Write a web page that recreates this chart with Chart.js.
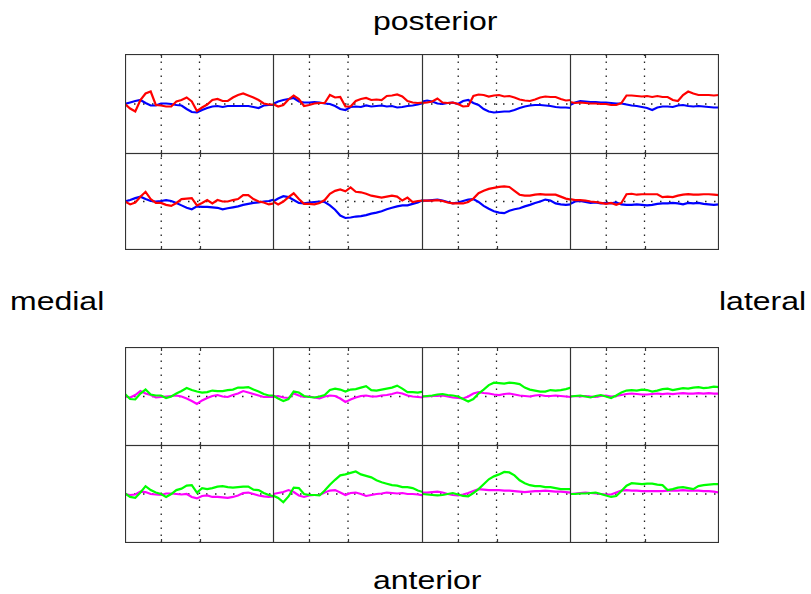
<!DOCTYPE html>
<html>
<head>
<meta charset="utf-8">
<script src="https://cdn.jsdelivr.net/npm/chart.js@4.4.0/dist/chart.umd.min.js"></script>
<style>
  html, body { margin: 0; padding: 0; background: #ffffff; }
  body { width: 811px; height: 594px; position: relative; overflow: hidden; font-family: "Liberation Sans", Arial, sans-serif; }
  canvas { position: absolute; }
  .lbl { position: absolute; font-size: 25px; color: #000; white-space: nowrap; line-height: 1; transform-origin: left top; }
</style>
</head>
<body>
<div class="lbl" id="tPost">posterior</div>
<div class="lbl" id="tMed">medial</div>
<div class="lbl" id="tLat">lateral</div>
<div class="lbl" id="tAnt">anterior</div>
<script>
// ---------- data ----------
const samples = [0,1,2,3,4,5,6,7,8,9,10,11,12,13,14,15,16,17,18,19,20,21,22,23,24,25,26,27,28,29];
const eventMarks = [7.05, 14.5];
const yLimits = [-10, 10];

// posterior, upper row (red / blue), columns 1..4
const postA1Red  = [0,-0.9,-1.5,0.8,2.1,2.5,-0.2,-0.3,-0.5,-0.5,0.5,0.8,1.3,0.5,-1.4,-0.7,-0.1,0.8,1.0,0.6,0.6,1.3,1.8,2.1,1.7,1.3,0.8,0.1,-0.1,-0.1];
const postA1Blue = [0,0.3,0.6,0.8,0.2,-0.3,-0.3,0.1,0.1,0.0,-0.2,-0.3,-1.0,-1.6,-1.7,-1.2,-0.8,-0.5,-0.4,-0.6,-0.4,-0.4,-0.4,-0.4,-0.4,-0.6,-0.8,-0.3,-0.2,-0.2];
const postA2Red  = [0,-0.5,-0.2,0.9,1.7,1.0,-0.4,-0.2,0.1,0.2,0.2,1.8,1.3,1.4,-0.5,-0.5,0.6,1.0,1.2,0.8,0.9,0.8,1.6,1.7,1.9,1.5,0.6,0.3,0.2,0.3];
const postA2Blue = [0,0.5,0.8,1.0,1.2,0.5,0.3,0.3,0.4,0.3,0.1,0.0,-0.4,-1.0,-1.2,-0.6,-0.5,-0.6,-0.3,-0.5,-0.4,-0.3,-0.5,-0.4,-0.7,-0.6,-0.4,-0.3,-0.1,0.2];
const postA3Red  = [0.2,0.3,0.5,1.1,0.3,0.2,0.3,0.0,-0.5,-0.4,1.6,1.9,1.8,1.5,1.7,1.8,1.5,1.6,1.3,0.9,0.7,0.6,0.9,1.3,1.5,1.4,1.4,1.0,0.7,0.8];
const postA3Blue = [0.5,0.7,0.5,0.1,0.0,0.2,0.3,0.0,0.6,0.8,0.2,-0.2,-1.0,-1.5,-1.7,-1.6,-1.5,-1.5,-1.2,-0.8,-0.5,-0.3,-0.2,-0.2,-0.3,-0.4,-0.6,-0.7,-0.7,-0.8];
const postA4Red  = [0.4,0.2,0.3,0.2,0.1,0.1,0.0,0.0,-0.2,-0.2,0.2,1.7,1.7,1.6,1.5,1.6,1.4,1.6,1.4,1.4,0.8,0.6,1.8,2.5,2.1,1.8,1.8,1.8,1.7,1.8];
const postA4Blue = [-0.2,0.3,0.6,0.5,0.4,0.4,0.3,0.3,0.2,0.1,0.1,-0.1,-0.3,-0.4,-0.6,-0.8,-1.2,-0.7,-0.5,-0.5,-0.6,-0.3,-0.2,-0.4,-0.5,-0.4,-0.5,-0.6,-0.7,-0.7];

// posterior, lower row (red / blue)
const postB1Red  = [0,-0.6,-0.2,1.0,2.0,0.5,-0.3,-0.3,-0.7,-0.9,-0.3,0.5,0.6,0.7,-0.8,-0.3,0.3,-0.4,0.3,0.0,0.0,0.3,0.5,1.3,1.3,0.5,0.0,-0.2,-0.6,-0.4];
const postB1Blue = [0,0.3,0.7,1.0,0.5,0.1,0.0,0.1,0.3,0.1,-0.3,-0.8,-1.3,-1.6,-1.0,-1.1,-1.1,-1.2,-1.3,-1.6,-1.4,-1.2,-1.0,-0.7,-0.5,-0.3,-0.2,0.0,0.1,0.4];
const postB2Red  = [0,-0.6,0.0,0.9,1.7,0.5,-0.5,-0.5,-0.6,-0.3,0.3,1.6,2.2,2.5,2.1,2.9,2.0,1.9,1.6,1.2,1.0,0.8,1.0,1.2,1.0,0.2,0.8,-0.1,0.1,0.2];
const postB2Blue = [0,0.6,1.1,0.9,0.3,-0.3,-0.4,-0.2,-0.1,0.0,-0.1,-0.8,-1.7,-2.9,-3.4,-3.3,-3.1,-3.0,-2.8,-2.5,-2.3,-2.0,-1.6,-1.3,-1.0,-0.8,-0.8,-0.5,-0.2,0.3];
const postB3Red  = [0.2,0.2,0.2,0.3,0.1,-0.2,-0.4,-0.4,-0.4,-0.1,0.6,1.7,2.2,2.6,2.8,3.0,3.1,3.0,2.2,1.4,1.2,1.2,1.4,1.5,1.4,1.4,1.4,1.0,0.6,0.4];
const postB3Blue = [0.2,0.2,0.3,0.4,0.2,-0.1,-0.4,-0.2,0.1,0.4,0.5,-0.1,-0.9,-1.5,-2.0,-2.3,-2.4,-1.9,-1.6,-1.4,-1.0,-0.7,-0.3,0.0,0.4,0.2,-0.4,-0.6,-0.7,-0.6];
const postB4Red  = [0.5,0.3,0.3,0.2,0.0,-0.1,-0.3,-0.5,-0.3,-0.7,-0.3,1.5,1.6,1.4,1.5,1.5,1.5,1.5,0.9,1.0,0.9,1.2,1.4,1.5,1.4,1.4,1.5,1.5,1.4,1.3];
const postB4Blue = [-0.5,0.0,0.1,-0.1,-0.3,-0.2,-0.4,-0.3,-0.4,-0.2,-0.6,-0.7,-0.7,-0.6,-0.7,-0.8,-0.7,-0.5,-0.4,-0.4,-0.3,-0.4,-0.6,-0.3,-0.4,-0.3,-0.5,-0.6,-0.7,-0.6];

// anterior, upper row (green / magenta)
const antC1Green   = [0.5,-0.5,-0.6,0.6,1.4,0.4,0.2,0.2,-0.3,0.0,0.6,1.1,1.7,1.3,1.0,0.8,0.9,1.2,1.1,1.1,1.3,1.4,1.8,1.8,1.9,1.4,1.0,0.5,0.2,0.2];
const antC1Magenta = [0,-0.2,0.3,1.1,0.6,0.3,-0.2,-0.1,0.0,0.1,0.2,0.0,-0.4,-0.9,-1.5,-0.8,-0.3,0.1,0.3,0.0,-0.1,0.3,0.6,1.1,0.8,0.5,0.2,-0.1,-0.1,-0.1];
const antC2Green   = [0.2,-0.4,-0.9,-0.5,1.0,0.8,0.1,-0.1,-0.2,0.0,0.3,1.3,1.6,1.4,1.0,1.4,1.5,1.8,2.1,1.3,1.2,1.4,1.6,1.8,2.2,1.6,0.9,0.9,0.8,1.0];
const antC2Magenta = [0,0.1,-0.2,-0.3,0.6,0.2,-0.1,0.0,-0.2,-0.4,0.0,0.2,0.1,-0.4,-1.1,-0.6,-0.2,0.1,0.2,0.0,0.0,0.2,0.3,0.5,0.8,0.6,0.2,0.0,-0.1,-0.2];
const antC3Green   = [0.0,0.1,0.2,0.4,0.5,0.3,0.2,0.0,-0.5,-1.0,-0.5,0.6,1.4,2.3,2.8,2.7,2.6,2.8,2.7,2.5,1.8,1.4,1.2,1.0,1.0,1.3,1.2,1.3,1.5,1.8];
const antC3Magenta = [0.0,0.0,0.1,0.1,0.2,0.0,-0.2,-0.3,-0.4,0.0,0.6,0.9,0.7,0.6,0.4,0.3,0.5,0.6,0.4,0.2,0.1,0.0,0.2,0.3,0.1,0.1,0.2,0.1,0.0,-0.1];
const antC4Green   = [0.0,0.1,0.2,0.0,-0.2,0.1,0.3,0.0,-0.3,0.2,0.8,1.2,1.3,1.2,1.4,1.3,1.0,1.2,1.5,1.6,1.3,1.5,1.7,1.6,1.8,1.9,1.7,1.8,2.0,1.9];
const antC4Magenta = [0.0,0.1,0.0,0.1,0.0,-0.1,0.1,0.2,0.0,0.1,0.3,0.5,0.6,0.5,0.4,0.4,0.5,0.6,0.5,0.6,0.5,0.6,0.7,0.6,0.6,0.7,0.6,0.7,0.6,0.6];

// anterior, lower row (green / magenta)
const antD1Green   = [0.1,-0.6,-0.8,0.3,1.6,0.8,0.3,0.0,-0.6,0.0,0.8,1.1,1.7,1.8,0.3,1.2,1.0,1.2,1.5,1.6,1.4,1.3,1.4,1.5,1.5,0.9,0.8,0.2,-0.2,-0.5];
const antD1Magenta = [0.0,-0.2,-0.1,0.5,0.4,0.0,-0.1,-0.2,0.1,0.1,0.0,-0.1,0.0,-0.6,-0.9,-0.4,-0.3,-0.6,-0.6,-0.7,-0.8,-0.6,-0.3,0.2,0.3,0.0,-0.3,-0.5,-0.6,-0.5];
const antD2Green   = [-0.3,-0.8,-1.7,-0.5,1.3,1.2,0.0,-0.2,-0.2,-0.3,0.7,1.9,2.9,3.8,4.0,4.3,4.6,4.0,3.7,3.4,2.8,2.4,2.1,1.8,1.7,1.4,1.4,1.2,0.7,0.4];
const antD2Magenta = [0.0,0.2,0.4,0.8,0.4,-0.3,-0.6,-0.3,-0.2,-0.2,0.3,0.7,0.8,0.3,-0.2,0.2,0.3,0.0,-0.4,-0.2,0.0,0.1,0.3,0.2,0.1,0.2,0.0,0.0,-0.1,-0.3];
const antD3Green   = [0.0,-0.1,-0.2,-0.3,-0.2,0.0,0.2,-0.1,-0.4,-0.5,0.2,1.0,2.0,3.0,3.6,4.0,4.5,4.4,3.8,2.8,2.2,1.8,1.6,1.6,1.4,1.4,1.2,1.0,1.0,1.0];
const antD3Magenta = [0.3,0.3,0.4,0.5,0.3,0.0,-0.2,-0.3,-0.1,0.2,0.6,1.0,0.9,0.8,0.8,0.8,0.7,0.7,0.6,0.5,0.4,0.5,0.6,0.6,0.7,0.6,0.5,0.5,0.4,0.3];
const antD4Green   = [0.0,0.0,0.1,0.1,0.2,0.3,0.0,-0.3,-0.6,-0.4,0.6,1.7,2.2,2.1,2.0,2.1,2.1,1.9,1.8,0.8,1.0,1.3,1.4,1.2,1.0,1.6,1.8,1.9,2.0,2.0];
const antD4Magenta = [0.0,0.1,0.2,0.3,0.2,0.1,0.0,-0.1,-0.1,0.3,0.7,0.8,0.7,0.7,0.6,0.6,0.6,0.6,0.6,0.7,0.7,0.7,0.8,0.7,0.7,0.7,0.6,0.6,0.5,0.3];

const sideLabels = { top: "posterior", left: "medial", right: "lateral", bottom: "anterior" };

// ---------- layout ----------
const colEdges = [125, 273, 422, 570, 718];
const rowEdgesTop = [54, 153, 249];
const rowEdgesBottom = [347, 445, 542];

const RED = "#ff0000", BLUE = "#0000ff", GREEN = "#00ff00", MAGENTA = "#ff00ff";

const panels = [
  { row: rowEdgesTop, r: 0, c: 0, a: postA1Red, b: postA1Blue, ca: RED, cb: BLUE },
  { row: rowEdgesTop, r: 0, c: 1, a: postA2Red, b: postA2Blue, ca: RED, cb: BLUE },
  { row: rowEdgesTop, r: 0, c: 2, a: postA3Red, b: postA3Blue, ca: RED, cb: BLUE },
  { row: rowEdgesTop, r: 0, c: 3, a: postA4Red, b: postA4Blue, ca: RED, cb: BLUE },
  { row: rowEdgesTop, r: 1, c: 0, a: postB1Red, b: postB1Blue, ca: RED, cb: BLUE },
  { row: rowEdgesTop, r: 1, c: 1, a: postB2Red, b: postB2Blue, ca: RED, cb: BLUE },
  { row: rowEdgesTop, r: 1, c: 2, a: postB3Red, b: postB3Blue, ca: RED, cb: BLUE },
  { row: rowEdgesTop, r: 1, c: 3, a: postB4Red, b: postB4Blue, ca: RED, cb: BLUE },
  { row: rowEdgesBottom, r: 0, c: 0, a: antC1Green, b: antC1Magenta, ca: GREEN, cb: MAGENTA },
  { row: rowEdgesBottom, r: 0, c: 1, a: antC2Green, b: antC2Magenta, ca: GREEN, cb: MAGENTA },
  { row: rowEdgesBottom, r: 0, c: 2, a: antC3Green, b: antC3Magenta, ca: GREEN, cb: MAGENTA },
  { row: rowEdgesBottom, r: 0, c: 3, a: antC4Green, b: antC4Magenta, ca: GREEN, cb: MAGENTA },
  { row: rowEdgesBottom, r: 1, c: 0, a: antD1Green, b: antD1Magenta, ca: GREEN, cb: MAGENTA },
  { row: rowEdgesBottom, r: 1, c: 1, a: antD2Green, b: antD2Magenta, ca: GREEN, cb: MAGENTA },
  { row: rowEdgesBottom, r: 1, c: 2, a: antD3Green, b: antD3Magenta, ca: GREEN, cb: MAGENTA },
  { row: rowEdgesBottom, r: 1, c: 3, a: antD4Green, b: antD4Magenta, ca: GREEN, cb: MAGENTA }
];

const framePlugin = {
  id: 'frame',
  afterDatasetsDraw(chart) {
    const ctx = chart.ctx, a = chart.chartArea, xs = chart.scales.x;
    ctx.save();
    ctx.strokeStyle = '#333333';
    ctx.lineWidth = 1.2;
    ctx.strokeRect(a.left + 0.5, a.top + 0.5, a.right - a.left - 1, a.bottom - a.top - 1);
    ctx.lineWidth = 1.2;
    eventMarks.forEach(m => {
      const px = Math.round(xs.getPixelForValue(m)) + 0.5;
      ctx.beginPath();
      ctx.moveTo(px, a.bottom); ctx.lineTo(px, a.bottom - 4);
      ctx.moveTo(px, a.top); ctx.lineTo(px, a.top + 4);
      ctx.stroke();
    });
    ctx.restore();
  }
};

function toPts(vals) { return samples.map((s, i) => ({ x: s, y: vals[i] })); }

panels.forEach(p => {
  const left = colEdges[p.c], right = colEdges[p.c + 1];
  const top = p.row[p.r], bottom = p.row[p.r + 1];
  const cv = document.createElement('canvas');
  cv.width = right - left + 1; cv.height = bottom - top + 1;
  cv.style.left = left + 'px'; cv.style.top = top + 'px';
  cv.style.width = cv.width + 'px'; cv.style.height = cv.height + 'px';
  document.body.appendChild(cv);
  const dotted = { borderColor: '#222222', borderWidth: 1.3, pointRadius: 0, fill: false };
  new Chart(cv, {
    type: 'line',
    data: {
      datasets: [
        { data: toPts(p.a), borderColor: p.ca, borderWidth: 2.2, pointRadius: 0, tension: 0, fill: false },
        { data: toPts(p.b), borderColor: p.cb, borderWidth: 2.2, pointRadius: 0, tension: 0, fill: false },
        Object.assign({ data: [{ x: samples[0], y: 0 }, { x: samples[samples.length - 1], y: 0 }], borderDash: [1.5, 7.5] }, dotted),
        Object.assign({ data: [{ x: eventMarks[0], y: yLimits[0] }, { x: eventMarks[0], y: yLimits[1] }], borderDash: [1.5, 5.5] }, dotted),
        Object.assign({ data: [{ x: eventMarks[1], y: yLimits[0] }, { x: eventMarks[1], y: yLimits[1] }], borderDash: [1.5, 5.5] }, dotted)
      ]
    },
    options: {
      responsive: false,
      animation: false,
      events: [],
      layout: { padding: 0 },
      plugins: { legend: { display: false }, tooltip: { enabled: false } },
      scales: {
        x: { type: 'linear', min: samples[0], max: samples[samples.length - 1], display: false },
        y: { type: 'linear', min: yLimits[0], max: yLimits[1], display: false }
      }
    },
    plugins: [framePlugin]
  });
});

// ---------- side labels ----------
function place(id, text, x, y, anchor) {
  const el = document.getElementById(id);
  el.textContent = text;
  const sx = 1.28;
  el.style.transform = 'scaleX(' + sx + ')';
  const w = el.getBoundingClientRect().width; // already scaled
  let lx = x;
  if (anchor === 'center') lx = x - w / 2;
  else if (anchor === 'right') lx = x - w;
  el.style.left = lx + 'px';
  el.style.top = y + 'px';
}
place('tPost', sideLabels.top, 435, 9, 'center');
place('tMed', sideLabels.left, 10, 289, 'left');
place('tLat', sideLabels.right, 806, 289, 'right');
place('tAnt', sideLabels.bottom, 427, 568, 'center');
</script>
</body>
</html>
